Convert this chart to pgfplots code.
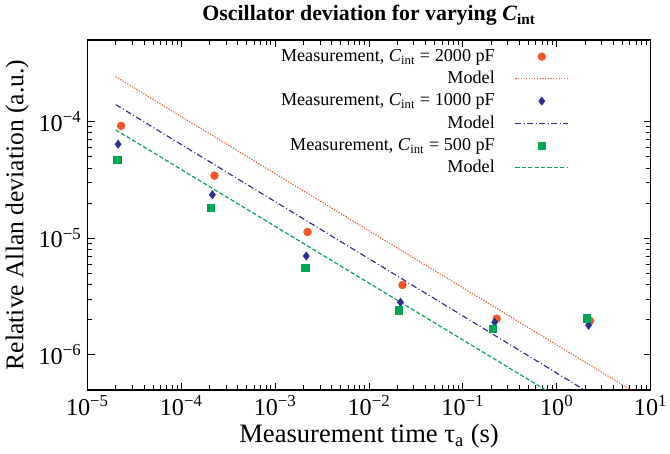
\documentclass[border=0pt]{standalone}
\usepackage{pgfplots}
\pgfplotsset{compat=1.18}
\usepackage{fontspec}
\setmainfont{Liberation Serif}
\definecolor{corange}{RGB}{240,88,40}
\definecolor{cblue}{RGB}{46,49,146}
\definecolor{cgreen}{RGB}{0,166,81}
\pgfplotsset{
  lineleg/.style={legend image code/.code={\path (0cm,0cm); \draw[##1] (0.35cm,0cm) -- (1.45cm,0cm);}},
  markleg/.style={legend image code/.code={\path (0cm,0cm); \draw[mark repeat=2,mark phase=2,##1] plot coordinates {(0.35cm,0cm) (0.9cm,0cm) (1.45cm,0cm)};}},
}
\begin{document}
\begin{tikzpicture}
\begin{axis}[
  name=ax,
  scale only axis,
  width=335pt, height=208pt,
  xmode=log, ymode=log,
  xmin=1e-5, xmax=10, ymin=5e-7, ymax=5e-4,
  axis line style={line width=0.8pt},
  tick style={line width=0.6pt, black},
  tick label style={font=\fontsize{14.4}{16}\selectfont},
  xlabel style={font=\fontsize{15.8}{18}\selectfont, yshift=2pt},
  ylabel style={font=\fontsize{15.2}{18}\selectfont, yshift=-1pt},
  title style={font=\bfseries\fontsize{13}{15}\selectfont, yshift=-1pt},
  xtick={1e-5,1e-4,1e-3,1e-2,1e-1,1,10},
  xticklabels={10\textsuperscript{−5},10\textsuperscript{−4},10\textsuperscript{−3},10\textsuperscript{−2},10\textsuperscript{−1},10\textsuperscript{0},10\textsuperscript{1}},
  ytick={1e-6,1e-5,1e-4},
  yticklabels={10\textsuperscript{−6},10\textsuperscript{−5},10\textsuperscript{−4}},
  title={Oscillator deviation for varying \textit{C}\textsubscript{int}},
  xlabel={Measurement time τ\textsubscript{a} (s)},
  ylabel={Relative Allan deviation (a.u.)},
  legend plot pos=right,
  legend cell align=right,
  legend style={at={(rel axis cs:0.864,0.994)}, anchor=north east, draw=none, fill=none, row sep=0.4pt, font=\fontsize{10.8}{12.6}\selectfont},
]
\addplot[only marks, mark=*, mark size=2.3pt, color=corange, markleg]
  coordinates {(2.28e-5,9.2e-5) (2.25e-4,3.44e-5) (2.21e-3,1.13e-5) (2.27e-2,3.97e-6) (0.229,2.04e-6) (2.26,1.95e-6)};
\addlegendentry{Measurement, \textit{C}\textsubscript{int} = 2000 pF}
\addplot[color=corange, line width=0.7pt, dash pattern=on 0.7pt off 0.9pt, lineleg]
  coordinates {(2e-5,2.43e-4) (10,3.93e-7)};
\addlegendentry{Model}
\addplot[only marks, mark=diamond*, mark size=2.4pt, color=cblue, markleg]
  coordinates {(2.12e-5,6.4e-5) (2.14e-4,2.36e-5) (2.14e-3,7.03e-6) (2.16e-2,2.82e-6) (0.218,1.90e-6) (2.18,1.79e-6)};
\addlegendentry{Measurement, \textit{C}\textsubscript{int} = 1000 pF}
\addplot[color=cblue, line width=0.7pt, dash pattern=on 3.5pt off 1.5pt on 0.6pt off 1.5pt, lineleg]
  coordinates {(2e-5,1.40e-4) (10,2.25e-7)};
\addlegendentry{Model}
\addplot[only marks, mark=square*, mark size=2.2pt, color=cgreen, markleg]
  coordinates {(2.07e-5,4.72e-5) (2.07e-4,1.82e-5) (2.09e-3,5.56e-6) (2.06e-2,2.41e-6) (0.207,1.67e-6) (2.09,2.06e-6)};
\addlegendentry{Measurement, \textit{C}\textsubscript{int} = 500 pF}
\addplot[color=cgreen, line width=0.7pt, dash pattern=on 2.5pt off 1.3pt, lineleg]
  coordinates {(2e-5,8.5e-5) (10,1.42e-7)};
\addlegendentry{Model}
\end{axis}
\pgfresetboundingbox
\path (ax.outer south west) rectangle ([xshift=11.5pt]ax.south east |- ax.outer north east);
\end{tikzpicture}
\end{document}
